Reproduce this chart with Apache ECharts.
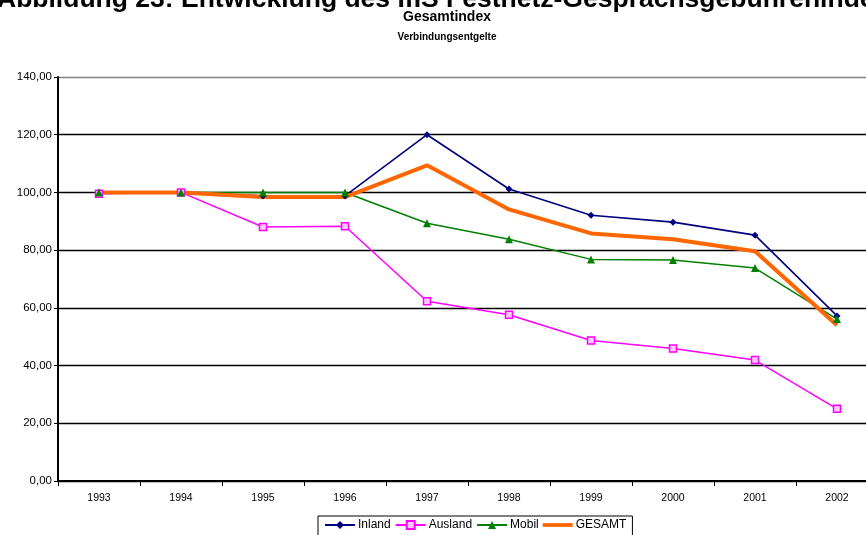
<!DOCTYPE html>
<html><head><meta charset="utf-8">
<script src="https://cdn.jsdelivr.net/npm/echarts@6/dist/echarts.min.js"></script>
<style>html,body{margin:0;padding:0;background:#fff}#c{width:866px;height:535px}</style>
</head><body><div id="c"></div>
<script>
const years = ['1993','1994','1995','1996','1997','1998','1999','2000','2001','2002'];
const inland  = [100, 100, 98.8, 98.8, 120, 101.2, 92.1, 89.7, 85.2, 57.2];
const ausland = [99.5, 100, 88, 88.3, 62.3, 57.6, 48.7, 45.9, 41.9, 25.0];
const mobil   = [100, 100, 100, 100, 89.3, 83.8, 76.8, 76.6, 73.8, 56.1];
const gesamt  = [100, 100, 98.4, 98.4, 109.4, 94.1, 85.8, 83.8, 79.6, 54.0];
const yTicks = {min: 0, max: 140, interval: 20};

const chart = echarts.init(document.getElementById('c'));
const F = 'Arial, "Liberation Sans", sans-serif';
chart.setOption({
  animation: false,
  textStyle: {fontFamily: F},
  graphic: [
    {type: 'text', style: {text: 'Abbildung 23: Entwicklung des IfIS Festnetz-Gesprächsgebührenindex', font: 'bold 26.5px ' + F, fill: '#000', x: -3, y: -14, textAlign: 'left'}},
    {type: 'text', style: {text: 'Gesamtindex', font: 'bold 14px ' + F, fill: '#000', x: 447, y: 10, textAlign: 'center'}},
    {type: 'text', style: {text: 'Verbindungsentgelte', font: 'bold 10px ' + F, fill: '#000', x: 447, y: 32, textAlign: 'center'}}
  ],
  legend: {
    left: 318, top: 516, padding: [3, 6, 8, 6], itemGap: 4, itemWidth: 30, itemHeight: 10,
    borderColor: '#000', borderWidth: 1,
    textStyle: {fontFamily: F, fontSize: 12, color: '#000', padding: [0, 0, 0, -2]},
    data: ['Inland', 'Ausland', 'Mobil', {name: 'GESAMT', icon: 'path://M0,0H40V5H0Z'}]
  },
  grid: {left: 58, top: 77, width: 820, height: 404, containLabel: false, outerBoundsMode: 'none'},
  xAxis: {
    type: 'category', data: years, boundaryGap: true,
    axisLine: {lineStyle: {color: '#000', width: 2}},
    axisTick: {show: true, length: 5, lineStyle: {color: '#000', width: 1}},
    axisLabel: {color: '#000', fontSize: 10.5, fontFamily: F, margin: 12}
  },
  yAxis: {
    type: 'value', min: yTicks.min, max: yTicks.max, interval: yTicks.interval,
    axisLine: {show: true, lineStyle: {color: '#000', width: 2}},
    axisTick: {show: true, length: 4, lineStyle: {color: '#000'}},
    axisLabel: {color: '#000', fontSize: 11.5, fontFamily: F, margin: 6,
      formatter: v => v.toFixed(2).replace('.', ',')},
    splitLine: {lineStyle: {color: ['#000','#000','#000','#000','#000','#000','#000','#808080'], width: 1.3}}
  },
  series: [
    {name: 'Inland', type: 'line', data: inland, symbol: 'diamond', symbolSize: 7,
      lineStyle: {color: '#000080', width: 1.6}, itemStyle: {color: '#000080'}},
    {name: 'Ausland', type: 'line', data: ausland, symbol: 'rect', symbolSize: 7,
      lineStyle: {color: '#FF00FF', width: 1.5}, itemStyle: {color: '#FFCCFF', borderColor: '#FF00FF', borderWidth: 1.5}},
    {name: 'Mobil', type: 'line', data: mobil, symbol: 'triangle', symbolSize: 8,
      lineStyle: {color: '#008000', width: 1.5}, itemStyle: {color: '#008000'}},
    {name: 'GESAMT', type: 'line', data: gesamt, symbol: 'none', showSymbol: false,
      lineStyle: {color: '#FF6600', width: 4}, itemStyle: {color: '#FF6600'}}
  ]
});
</script></body></html>
